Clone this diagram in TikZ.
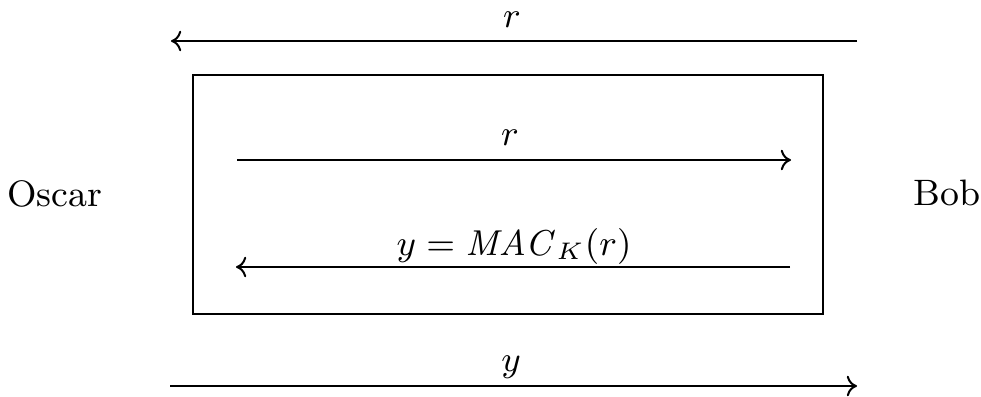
\documentclass[tikz,border=0pt]{standalone}
\usepackage{amsmath,amssymb}
\usetikzlibrary{arrows.meta}
\tikzset{
  party/.style={font=\fontsize{9.2}{11}\selectfont,inner sep=0pt,anchor=base},
  lbl/.style={font=\fontsize{8.7}{10.5}\selectfont,inner sep=0pt,anchor=base},
  frame/.style={draw=black,line width=0.55pt},
  msg/.style={-{To[length=0.9mm,width=1.8mm]},line width=0.5pt}
}
\begin{document}
\begin{tikzpicture}[x=0.25pt,y=-0.25pt]
\path[use as bounding box] (0,0) rectangle (981,396);
% parties
\node[party] (oscar) at (55,206) {Oscar};
\node[party] (bob) at (947,205) {Bob};
% interception box
\draw[frame] (193,75) rectangle (823,314);
% end points
\coordinate (tR) at (857,41);  \coordinate (tL) at (171,41);
\coordinate (iL) at (237,160); \coordinate (iR) at (791,160);
\coordinate (jR) at (790,267); \coordinate (jL) at (236,267);
\coordinate (bL) at (170,386); \coordinate (bR) at (857,386);
\draw[msg] (tR)--(tL);
\draw[msg] (iL)--(iR);
\draw[msg] (jR)--(jL);
\draw[msg] (bL)--(bR);
% labels
\node[lbl] (rtop) at (512,27) {$r$};
\node[lbl] (rin) at (510,145) {$r$};
\node[lbl] (mac) at (514,255) {$y = \mathit{MAC}_K(r)$};
\node[lbl] (ybot) at (511,371) {$y$};
\end{tikzpicture}
\end{document}
